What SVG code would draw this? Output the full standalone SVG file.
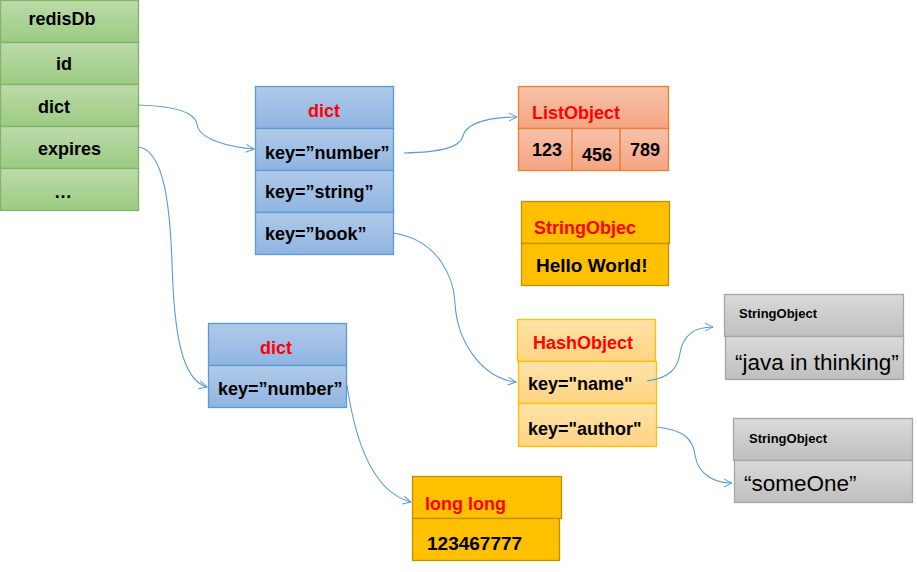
<svg xmlns="http://www.w3.org/2000/svg" width="917" height="572" viewBox="0 0 917 572">
<defs>
<linearGradient id="gGreen" x1="0" y1="0" x2="0" y2="1"><stop offset="0" stop-color="#bcdaaa"/><stop offset="1" stop-color="#9ccb82"/></linearGradient>
<linearGradient id="gBlue" x1="0" y1="0" x2="0" y2="1"><stop offset="0" stop-color="#b0cae9"/><stop offset="1" stop-color="#8fb4e1"/></linearGradient>
<linearGradient id="gSalmon" x1="0" y1="0" x2="0" y2="1"><stop offset="0" stop-color="#f7c1aa"/><stop offset="1" stop-color="#f4a582"/></linearGradient>
<linearGradient id="gHash" x1="0" y1="0" x2="0" y2="1"><stop offset="0" stop-color="#ffe3a9"/><stop offset="1" stop-color="#ffd382"/></linearGradient>
<linearGradient id="gGray" x1="0" y1="0" x2="0" y2="1"><stop offset="0" stop-color="#dadada"/><stop offset="1" stop-color="#bfbfbf"/></linearGradient>
<marker id="arr" viewBox="0 0 10 10" refX="9" refY="5" markerWidth="10" markerHeight="10" markerUnits="userSpaceOnUse" orient="auto">
<path d="M1,1 L9,5 L1,9" fill="none" stroke="#5b9bd5" stroke-width="1"/>
</marker>
<style>
text{font-family:"Liberation Sans",Arial,sans-serif;font-weight:bold;font-size:18px;fill:#000}
.t{fill:#ff0000;font-size:18px}
.green{fill:url(#gGreen);stroke:#7fb565;stroke-width:1.3}
.blue{fill:url(#gBlue);stroke:#5b9bd5;stroke-width:1.3}
.salmon{fill:url(#gSalmon);stroke:#ed7d31;stroke-width:1.3}
.yellow{fill:#ffc000;stroke:#bf9000;stroke-width:1.3}
.hash{fill:url(#gHash);stroke:#ffc000;stroke-width:1.3}
.gray{fill:url(#gGray);stroke:#a6a6a6;stroke-width:1.3}
.small{font-size:13px}
.reg{font-weight:normal;font-size:22.5px}
.big{font-size:19px}
.conn path{fill:none;stroke:#5b9bd5;stroke-width:1.1;marker-end:url(#arr)}
</style>
</defs>
<rect width="917" height="572" fill="#ffffff"/>

<g id="redisDb">
<rect class="green" x="0.5" y="0.5" width="138" height="42"/>
<rect class="green" x="0.5" y="42.5" width="138" height="42"/>
<rect class="green" x="0.5" y="84.5" width="138" height="42"/>
<rect class="green" x="0.5" y="126.5" width="138" height="42"/>
<rect class="green" x="0.5" y="168.5" width="138" height="42"/>
<text x="62" y="25" text-anchor="middle">redisDb</text>
<text x="64" y="70" text-anchor="middle">id</text>
<text x="38" y="113">dict</text>
<text x="38" y="155">expires</text>
<text x="63" y="198" text-anchor="middle">…</text>
</g>

<g id="dict1">
<rect class="blue" x="255.5" y="86.5" width="138" height="42"/>
<rect class="blue" x="255.5" y="128.5" width="138" height="42"/>
<rect class="blue" x="255.5" y="170.5" width="138" height="42"/>
<rect class="blue" x="255.5" y="212.5" width="138" height="42"/>
<text class="t" x="324" y="117" text-anchor="middle">dict</text>
<text x="265" y="159">key=”number”</text>
<text x="265" y="198">key=”string”</text>
<text x="265" y="240">key=”book”</text>
</g>

<g id="listObject">
<rect class="salmon" x="518.5" y="86.5" width="150" height="42"/>
<rect class="salmon" x="518.5" y="128.5" width="53.5" height="42"/>
<rect class="salmon" x="572" y="128.5" width="48" height="42"/>
<rect class="salmon" x="620" y="128.5" width="48.5" height="42"/>
<text class="t" x="532" y="119">ListObject</text>
<text x="532" y="156">123</text>
<text x="582" y="161">456</text>
<text x="630" y="156">789</text>
</g>

<g id="stringObjec">
<rect class="yellow" x="521.5" y="201.5" width="148" height="42"/>
<rect class="yellow" x="521.5" y="243.5" width="147" height="42"/>
<text class="t" x="534" y="234">StringObjec</text>
<text class="big" x="536" y="272">Hello World!</text>
</g>

<g id="hashObject">
<rect class="hash" x="517.5" y="319.5" width="138" height="42"/>
<rect class="hash" x="518.5" y="361.5" width="138" height="42"/>
<rect class="hash" x="518.5" y="403.5" width="138" height="43"/>
<text class="t" x="533" y="349">HashObject</text>
<text x="528" y="390">key="name"</text>
<text x="528" y="435">key="author"</text>
</g>

<g id="stringObject1">
<rect class="gray" x="724.5" y="294.5" width="179" height="42"/>
<rect class="gray" x="725.5" y="336.5" width="178" height="43"/>
<text class="small" x="739" y="318">StringObject</text>
<text class="reg" x="735" y="370">“java in thinking”</text>
</g>

<g id="stringObject2">
<rect class="gray" x="733.5" y="418.5" width="179" height="42"/>
<rect class="gray" x="734.5" y="460.5" width="178" height="42"/>
<text class="small" x="749" y="443">StringObject</text>
<text class="reg" x="744" y="491">“someOne”</text>
</g>

<g id="dict2">
<rect class="blue" x="208.5" y="323.5" width="138" height="42"/>
<rect class="blue" x="208.5" y="365.5" width="138" height="42"/>
<text class="t" x="276" y="354" text-anchor="middle">dict</text>
<text x="218" y="395">key=”number”</text>
</g>

<g id="longLong">
<rect class="yellow" x="412.5" y="476.5" width="149" height="42"/>
<rect class="yellow" x="412.5" y="518.5" width="147" height="42"/>
<text class="t" x="425" y="510">long long</text>
<text class="big" x="427" y="550">123467777</text>
</g>

<g id="connectors" class="conn">
<path d="M138,105 C175,106 195,112 197,124 C199,140 230,147 254,149"/>
<path d="M138,147 C165,150 170,210 172,262 C174,335 182,380 207,387"/>
<path d="M404,153 C440,152 460,148 463,136 C467,121 495,117 517,117"/>
<path d="M393,233 C440,240 454,280 455,303 C457,342 482,378 516,382"/>
<path d="M647,381 C670,378 678,368 680,353 C683,335 695,327 713,327"/>
<path d="M657,427 C685,430 693,440 695,455 C698,475 715,483 732,483"/>
<path d="M347,385 C355,440 372,492 411,502"/>
</g>
</svg>
